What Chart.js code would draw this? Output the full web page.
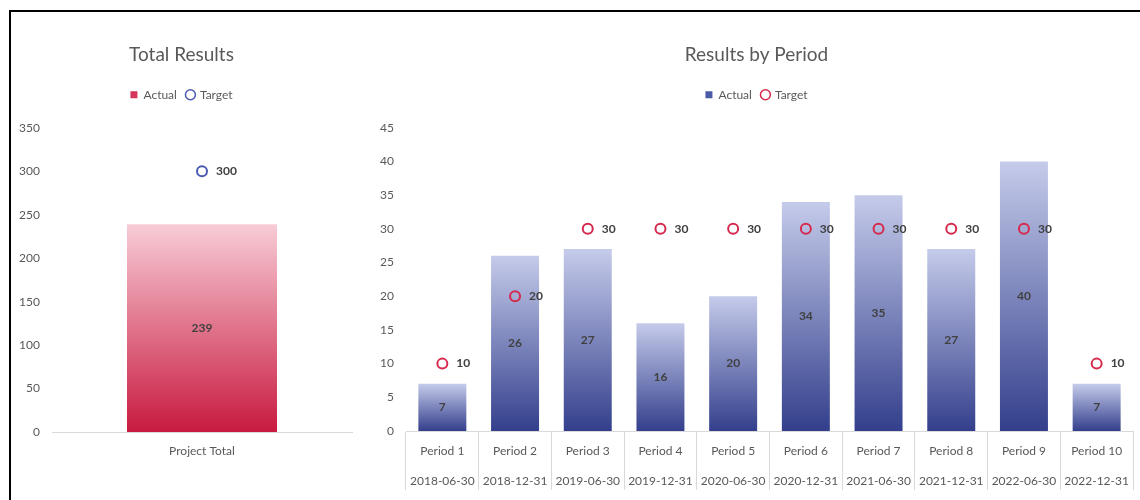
<!DOCTYPE html>
<html>
<head>
<meta charset="utf-8">
<script src="https://cdn.jsdelivr.net/npm/chart.js@4.4.1/dist/chart.umd.min.js"></script>
<style>
  html, body { margin: 0; padding: 0; background: #fff; }
  #wrap { position: relative; width: 1140px; height: 500px; overflow: hidden; }
  #frame { position: absolute; left: 9px; top: 10px; width: 1200px; height: 600px; border-left: 2px solid #000; border-top: 2px solid #000; }
  #totalChart { position: absolute; left: 11px; top: 12px; }
  #periodChart { position: absolute; left: 365px; top: 12px; }
</style>
</head>
<body>
<div id="wrap">
  <div id="frame"></div>
  <canvas id="totalChart" width="354" height="488"></canvas>
  <canvas id="periodChart" width="775" height="488"></canvas>
</div>
<script>
// data
const totalLabels = ['Project Total'];
const totalActual = [239];
const totalTarget = [300];

const periodNames = ['Period 1', 'Period 2', 'Period 3', 'Period 4', 'Period 5',
                     'Period 6', 'Period 7', 'Period 8', 'Period 9', 'Period 10'];
const periodDates = ['2018-06-30', '2018-12-31', '2019-06-30', '2019-12-31', '2020-06-30',
                     '2020-12-31', '2021-06-30', '2021-12-31', '2022-06-30', '2022-12-31'];
const periodActual = [7, 26, 27, 16, 20, 34, 35, 27, 40, 7];
const periodTarget = [10, 20, 30, 30, 30, 30, 30, 30, 30, 10];

const FONT = 'Lato';
const GREY = '#595959';

// gradient from top of each bar down to zero line
function barGradient(top, bottom) {
    return (context) => {
        const chart = context.chart;
        if (!chart.chartArea || context.type !== 'data') return bottom;
        const y = chart.scales.y;
        const g = chart.ctx.createLinearGradient(0, y.getPixelForValue(context.raw), 0, y.getPixelForValue(0));
        g.addColorStop(0, top);
        g.addColorStop(1, bottom);
        return g;
    };
}

// value labels: centred in bars, to the right of target markers
const valueLabels = {
    id: 'valueLabels',
    afterDatasetsDraw(chart) {
        const ctx = chart.ctx;
        ctx.save();
        ctx.font = `bold 12px ${FONT}`;
        ctx.fillStyle = '#404040';
        ctx.textBaseline = 'middle';
        chart.data.datasets.forEach((ds, i) => {
            const meta = chart.getDatasetMeta(i);
            meta.data.forEach((el, j) => {
                if (meta.type === 'bar') {
                    ctx.textAlign = 'center';
                    ctx.fillText(ds.data[j], el.x, (el.y + el.base) / 2);
                } else {
                    ctx.textAlign = 'left';
                    ctx.fillText(ds.data[j], el.x + 14, el.y);
                }
            });
        });
        ctx.restore();
    }
};

function legendWith(colors) {
    return {
        position: 'top',
        labels: {
            usePointStyle: true,
            boxWidth: 7,
            boxHeight: 7,
            padding: 10,
            color: GREY,
            font: { family: FONT, size: 12 },
            sort: (a, b) => a.datasetIndex - b.datasetIndex,
            generateLabels(chart) {
                const items = Chart.defaults.plugins.legend.labels.generateLabels(chart);
                items.forEach((it) => {
                    const c = colors[it.datasetIndex];
                    it.pointStyle = c.style;
                    it.fillStyle = c.fill;
                    it.strokeStyle = c.stroke;
                    it.lineWidth = c.width;
                    it.fontColor = GREY;
                });
                return items;
            }
        }
    };
}

const titleOpts = (text) => ({
    display: true,
    text: text,
    color: GREY,
    font: { family: FONT, size: 19, weight: 'normal' },
    padding: { top: 31, bottom: 13 }
});

// empty subtitle below the legend, used as a spacer
const spacer = {
    display: true,
    text: '',
    weight: 500,
    font: { size: 1, lineHeight: 1 },
    padding: { top: 0, bottom: 16 }
};

const totalChart = new Chart(document.getElementById('totalChart').getContext('2d'), {
    data: {
        labels: totalLabels,
        datasets: [
            {
                type: 'bar',
                label: 'Actual',
                data: totalActual,
                backgroundColor: barGradient('#f8ccd6', '#c81a40'),
                categoryPercentage: 1,
                barPercentage: 0.5,
                order: 1
            },
            {
                type: 'line',
                label: 'Target',
                data: totalTarget,
                showLine: false,
                pointStyle: 'circle',
                pointRadius: 5,
                pointBorderWidth: 2,
                pointBorderColor: '#4a5ab0',
                pointBackgroundColor: 'rgba(0,0,0,0)',
                borderColor: '#4a5ab0',
                order: 0
            }
        ]
    },
    options: {
        responsive: false,
        animation: false,
        layout: { padding: { left: 0, right: 13, top: 0, bottom: 0 } },
        scales: {
            x: {
                grid: { display: false, drawTicks: false },
                border: { display: true, color: '#d9d9d9' },
                ticks: { color: GREY, font: { family: FONT, size: 12 }, padding: 12 },
                afterFit(s) { s.height = 68; }
            },
            y: {
                min: 0,
                max: 350,
                grid: { display: false, drawTicks: false },
                border: { display: false },
                ticks: { stepSize: 50, color: GREY, font: { family: FONT, size: 12 }, padding: 12 },
                afterFit(s) { s.width = 41; }
            }
        },
        plugins: {
            title: titleOpts('Total Results'),
            subtitle: spacer,
            legend: legendWith([
                { style: 'rect', fill: '#d5365a', stroke: '#d5365a', width: 0 },
                { style: 'circle', fill: 'rgba(0,0,0,0)', stroke: '#4a5ab0', width: 1.5 }
            ]),
            tooltip: { enabled: false }
        }
    },
    plugins: [valueLabels]
});

const periodChart = new Chart(document.getElementById('periodChart').getContext('2d'), {
    data: {
        labels: periodNames.map((n, i) => [n, periodDates[i]]),
        datasets: [
            {
                type: 'bar',
                label: 'Actual',
                data: periodActual,
                backgroundColor: barGradient('#c5cbea', '#333f8c'),
                categoryPercentage: 1,
                barPercentage: 0.66,
                order: 1
            },
            {
                type: 'line',
                label: 'Target',
                data: periodTarget,
                showLine: false,
                pointStyle: 'circle',
                pointRadius: 5,
                pointBorderWidth: 2,
                pointBorderColor: '#d5294d',
                pointBackgroundColor: 'rgba(0,0,0,0)',
                borderColor: '#d5294d',
                order: 0
            }
        ]
    },
    options: {
        responsive: false,
        animation: false,
        layout: { padding: { left: 13, right: 5, top: 0, bottom: 0 } },
        scales: {
            x: {
                grid: { display: true, offset: true, drawOnChartArea: false, drawTicks: true, tickLength: 59, color: '#d9d9d9' },
                border: { display: true, color: '#d9d9d9' },
                ticks: { color: GREY, font: { family: FONT, size: 12, lineHeight: 2.5 }, padding: -54, maxRotation: 0, autoSkip: false },
                afterFit(s) { s.height = 69; }
            },
            y: {
                min: 0,
                max: 45,
                grid: { display: false, drawTicks: false },
                border: { display: false },
                ticks: { stepSize: 5, color: GREY, font: { family: FONT, size: 12 }, padding: 12 },
                afterFit(s) { s.width = 28; }
            }
        },
        plugins: {
            title: titleOpts('Results by Period'),
            subtitle: spacer,
            legend: legendWith([
                { style: 'rect', fill: '#4b5aa6', stroke: '#4b5aa6', width: 0 },
                { style: 'circle', fill: 'rgba(0,0,0,0)', stroke: '#d5294d', width: 1.5 }
            ]),
            tooltip: { enabled: false }
        }
    },
    plugins: [valueLabels]
});
</script>
</body>
</html>
